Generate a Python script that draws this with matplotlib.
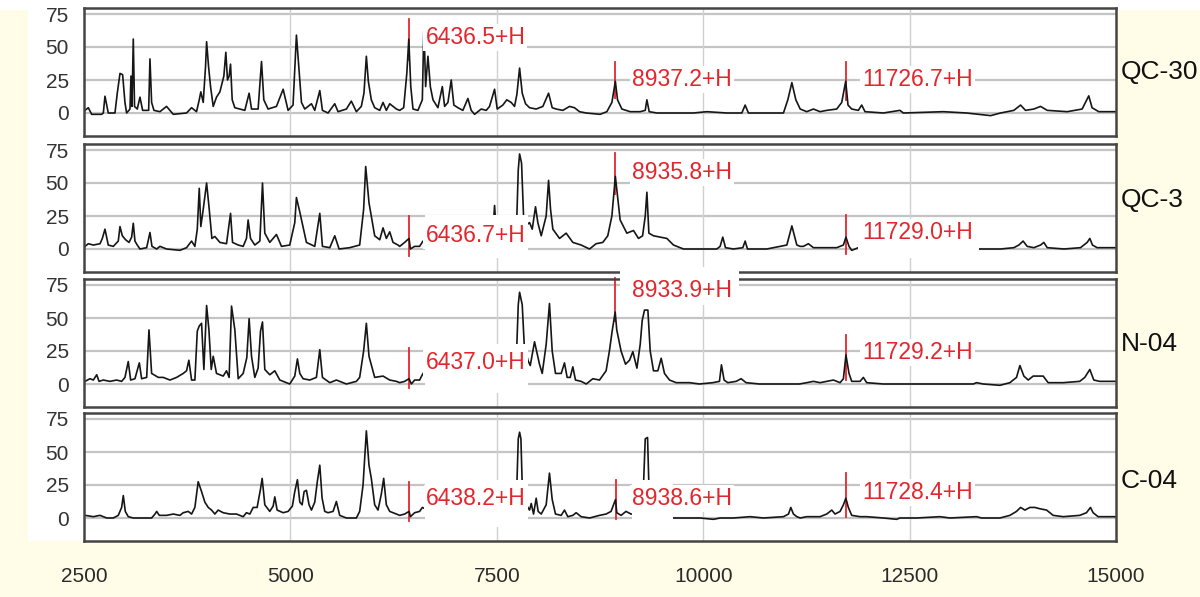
import matplotlib
matplotlib.use("Agg")
import matplotlib.pyplot as plt
from matplotlib.patches import Rectangle
from matplotlib import font_manager

# ---------------- data ----------------
sample_names = ["QC-30", "QC-3", "N-04", "C-04"]

qc30_x = [2500, 2512, 2552, 2593, 2714, 2734, 2754, 2794, 2815, 2875, 2903, 2936, 2968, 2996, 3016, 3057, 3069, 3081, 3097, 3112,
          3145, 3178, 3210, 3283, 3299, 3319, 3347, 3420, 3500, 3581, 3742, 3803, 3863, 3896, 3915, 3944, 3972, 3985, 4009, 4033,
          4065, 4105, 4146, 4178, 4194, 4218, 4238, 4258, 4275, 4295, 4327, 4388, 4448, 4500, 4529, 4609, 4650, 4678, 4730, 4831,
          4912, 4972, 5032, 5073, 5102, 5134, 5174, 5255, 5295, 5356, 5388, 5456, 5537, 5577, 5678, 5738, 5799, 5859, 5891, 5920,
          5944, 5980, 6021, 6082, 6122, 6162, 6203, 6284, 6324, 6372, 6410, 6434, 6458, 6485, 6545, 6598, 6617, 6638, 6666, 6695,
          6727, 6787, 6840, 6868, 6908, 6948, 6980, 7029, 7089, 7150, 7190, 7231, 7311, 7372, 7412, 7473, 7505, 7573, 7621, 7674,
          7715, 7743, 7776, 7808, 7848, 7897, 7977, 8058, 8127, 8171, 8219, 8300, 8381, 8441, 8502, 8583, 8752, 8833, 8894, 8936,
          8962, 9015, 9116, 9237, 9298, 9318, 9346, 9439, 9640, 9882, 10044, 10286, 10468, 10508, 10548, 10770, 10972, 11025, 11074, 11122,
          11175, 11254, 11335, 11416, 11496, 11617, 11678, 11726, 11754, 11799, 11879, 11920, 11960, 12182, 12383, 12424, 12908, 13190, 13481, 13602,
          13763, 13844, 13904, 14005, 14086, 14167, 14409, 14590, 14638, 14670, 14710, 14791, 14973, 15000]
qc30_y = [1, 2, 4, -1, -1, 0, 12.7, 0, 0, 0, 15, 30, 29, 8, 0, 3, 28, 5, 56, 5,
          3, 12, 2, 2, 41, 8, 2, 1, 5, -1, 0, 4, 1, 10, 16, 8, 35, 54, 35, 20,
          5, 12, 16, 24, 28, 46, 25, 28, 37, 10, 4, 3, 2, 15, 3, 3, 39, 10, 3, 5,
          18, 2, 6, 59, 35, 8, 3, 7, 2, 17, 2, 0, 7, 1, 3, 9, 1, 5, 15, 43,
          24, 10, 4, 2, 8, 2, 7, 3, 2, 4, 30, 56, 20, 3, 2, 10, 66, 20, 43, 20,
          10, 4, 20, 5, 8, 25, 6, 4, 2, 11, 2, -1, 3, 2, 5, 18, 3, 6, 10, 8,
          5, 14, 34, 15, 7, 4, 3, 5, 15, 4, 3, 2, 5, 4, 1, 0, -1, 1, 8, 24,
          10, 3, 1, 1, 2, 10, 1, 0, 0, 0, 1, 0, 0, 6, 0, 0, 0, 10, 23, 10,
          3, 1, 3, 1, 2, 3, 8, 24, 6, 3, 2, 6, 1, 0, 2, 0, 1, 0, -2, 0,
          2, 6, 2, 3, 5, 2, 1, 3, 9, 13, 4, 1, 1, 1]

qc3_x = [2500, 2512, 2552, 2613, 2694, 2722, 2754, 2794, 2855, 2915, 2936, 2964, 3004, 3045, 3077, 3097, 3117, 3145, 3178, 3259,
         3299, 3323, 3380, 3420, 3500, 3662, 3742, 3803, 3843, 3872, 3896, 3915, 3944, 3985, 4017, 4049, 4085, 4146, 4226, 4275,
         4299, 4368, 4428, 4468, 4488, 4517, 4569, 4630, 4662, 4690, 4750, 4831, 4892, 4992, 5053, 5073, 5114, 5194, 5295, 5356,
         5388, 5477, 5537, 5590, 5718, 5839, 5887, 5912, 5952, 6021, 6082, 6122, 6162, 6203, 6243, 6304, 6324, 6384, 6437, 6453,
         6505, 6565, 6606, 6650, 6800, 7000, 7200, 7400, 7445, 7473, 7501, 7650, 7720, 7743, 7760, 7776, 7800, 7824, 7856, 7897,
         7929, 7969, 7997, 8038, 8098, 8127, 8151, 8179, 8260, 8340, 8421, 8522, 8623, 8703, 8784, 8844, 8894, 8936, 8962, 8994,
         9075, 9156, 9216, 9266, 9298, 9318, 9342, 9398, 9479, 9560, 9640, 9761, 9963, 10165, 10205, 10237, 10270, 10366, 10480, 10508,
         10536, 10770, 11013, 11074, 11134, 11175, 11214, 11274, 11335, 11496, 11617, 11698, 11729, 11766, 11799, 11920, 12300, 12800, 13200, 13360,
         13602, 13763, 13823, 13875, 13924, 14005, 14086, 14126, 14167, 14369, 14570, 14651, 14683, 14715, 14771, 14973, 15000]
qc3_y = [1, 2, 4, 3, 4, 8, 15, 3, 2, 6, 17, 10, 7, 5, 9, 19.5, 6, 3, 0, 1,
         12.5, 2, 0, 2, 0, -1, 1, 6, 2, 15, 46, 17, 30, 50, 30, 8, 9.5, 5, 4, 27,
         5, 3, 2, 8, 22, 8, 3, 6, 50, 12, 5, 11, 2, 3, 20, 39, 28, 5, 2, 27,
         2, 1, 10, 0, 1, 3, 30, 62.5, 35, 10, 7, 16, 8, 13, 5, 3, 2, 5, 8, 0,
         2, 2, 6, 4, 6, 4, 5, 5, 5, 33, 5, 8, 15, 25, 60, 72, 65, 25, 18, 20,
         15, 32, 20, 10, 25, 52, 30, 15, 8, 12, 5, 3, 0, 4, 5, 10, 25, 55, 40, 22,
         12, 14, 8, 10, 25, 43, 12, 10, 9, 8, 3, 0, 0, 0, 2, 9, 1, 0, 1, 6,
         0, 0, 3, 17.5, 3, 2, 2, 4, 1, 1, 1, 3, 9, 2, -1, 2, 1, 1, 0, 0,
         0, 1, 3, 6, 2, 1, 3, 5, 1, 0, 1, 5, 8, 3, 1, 1, 1]

n04_x = [2500, 2512, 2573, 2613, 2654, 2682, 2734, 2815, 2895, 2956, 2996, 3036, 3065, 3117, 3170, 3198, 3259, 3287, 3319, 3400,
         3460, 3541, 3622, 3702, 3742, 3770, 3803, 3843, 3872, 3896, 3924, 3952, 3985, 4013, 4041, 4065, 4105, 4186, 4226, 4258,
         4287, 4327, 4368, 4428, 4472, 4500, 4529, 4569, 4609, 4638, 4662, 4690, 4750, 4811, 4872, 4992, 5053, 5085, 5114, 5154,
         5234, 5315, 5356, 5388, 5477, 5557, 5678, 5799, 5839, 5887, 5920, 5952, 6021, 6122, 6203, 6284, 6324, 6384, 6437, 6465,
         6505, 6565, 6606, 6700, 6900, 7100, 7300, 7500, 7650, 7730, 7743, 7760, 7776, 7808, 7832, 7877, 7905, 7957, 7989, 8017,
         8050, 8098, 8138, 8171, 8211, 8280, 8320, 8352, 8389, 8421, 8453, 8522, 8583, 8663, 8744, 8824, 8864, 8897, 8934, 8953,
         9005, 9059, 9108, 9148, 9197, 9237, 9261, 9289, 9330, 9358, 9398, 9451, 9491, 9531, 9592, 9673, 9834, 9955, 10116, 10197,
         10221, 10253, 10298, 10399, 10459, 10520, 10681, 11165, 11254, 11335, 11416, 11496, 11577, 11658, 11698, 11729, 11766, 11799, 11900, 11940,
         11980, 12182, 12585, 12989, 13271, 13311, 13392, 13594, 13715, 13795, 13836, 13884, 13937, 13997, 14118, 14178, 14360, 14561, 14622, 14683,
         14731, 14803, 14965, 15000]
n04_y = [1, 2, 4, 3, 7, 2, 3, 2, 3, 2, 5, 17, 3, 4, 16, 4, 5, 41, 8, 5,
         5, 3, 5, 8, 10, 18, 3, 3, 40, 44, 46, 11, 59.5, 41, 11, 21, 8, 6, 10, 5,
         59, 41, 4, 8, 20, 49.5, 21, 5, 12, 40, 47, 11, 7, 10, 3, 0, 6, 19, 8, 4,
         3, 5, 26, 5, 1, 3, 0, 2, 5, 25, 46, 21, 5, 6, 3, 2, 1, 2, 4, 0,
         3, 3, 8, 5, 4, 3, 4, 5, 8, 25, 30, 60, 69.5, 60, 30, 18, 14, 32, 23, 15,
         8, 30, 61, 25, 8, 8, 16, 5, 5, 13, 3, 2, 0, 4, 3, 10, 25, 40, 54.5, 41,
         25, 15, 18, 24.5, 12, 30, 48, 56, 56, 25, 10, 10, 19.5, 8, 3, 1, 1, 0, 1, 2,
         14.5, 3, 1, 2, 4, 1, 0, 0, 1, 2, 1, 2, 3, 1, 4, 22, 8, 2, 2, 5,
         1, 0, 0, 0, 0, 1, 0, -1, 1, 5, 14, 6, 3, 6, 6, 1, 1, 2, 5, 11,
         3, 2, 2, 2]

c04_x = [2500, 2512, 2613, 2694, 2775, 2855, 2915, 2956, 2976, 3000, 3036, 3097, 3259, 3319, 3360, 3380, 3412, 3500, 3581, 3662,
         3702, 3763, 3803, 3843, 3883, 3924, 3964, 4005, 4045, 4085, 4125, 4186, 4267, 4347, 4428, 4468, 4509, 4549, 4597, 4638,
         4658, 4690, 4750, 4791, 4811, 4839, 4912, 4972, 5024, 5053, 5085, 5114, 5142, 5166, 5194, 5226, 5255, 5295, 5327, 5356,
         5384, 5416, 5456, 5517, 5557, 5597, 5678, 5799, 5839, 5880, 5920, 5952, 5980, 6021, 6061, 6101, 6130, 6162, 6203, 6284,
         6324, 6384, 6438, 6453, 6505, 6565, 6598, 6700, 6900, 7100, 7300, 7500, 7650, 7730, 7743, 7760, 7776, 7792, 7808, 7856,
         7897, 7917, 7945, 7977, 8001, 8038, 8098, 8138, 8171, 8211, 8280, 8320, 8360, 8421, 8461, 8522, 8623, 8744, 8824, 8884,
         8938, 8953, 9005, 9065, 9126, 9200, 9277, 9298, 9326, 9342, 9450, 9550, 9640, 9801, 9963, 10124, 10205, 10366, 10568, 10730,
         10972, 11033, 11061, 11093, 11134, 11175, 11254, 11416, 11496, 11557, 11597, 11658, 11698, 11728, 11758, 11799, 11900, 11980, 12182, 12343,
         12383, 12585, 12868, 12989, 13311, 13372, 13594, 13715, 13795, 13844, 13896, 13957, 14017, 14078, 14159, 14239, 14360, 14561, 14642, 14691,
         14723, 14783, 14965, 15000]
c04_y = [1, 2, 1, 2, 0, 0, 2, 8, 17, 5, 1, 0, 0, 0, 3, 5, 2, 2, 3, 2,
         4, 5, 3, 8, 27.5, 20, 12, 8, 6, 3, 6, 4, 3, 3, 1, 4, 3, 8, 8, 22,
         30, 10, 5, 9, 16, 6, 4, 5, 9, 20, 29, 12, 10, 20, 21, 10, 6, 12, 28, 40,
         15, 5, 4, 5, 12.5, 2, 0, 0, 5, 25, 66, 40, 30, 10, 6, 18, 30, 10, 5, 3,
         2, 3, 5, 1, 4, 5, 8, 5, 4, 3, 4, 4, 6, 10, 25, 60, 65, 60, 25, 10,
         6, 11, 3, 15, 5, 3, 10, 34, 14, 3, 2, 6, 1, 2, 4, 1, 0, 2, 3, 5,
         14, 4, 2, 5, 3, 3, 25, 60, 61, 25, 2, 1, 0, 0, 0, -1, 0, 0, 1, 0,
         1, 3, 8, 3, 1, 0, 1, 1, 3, 6, 3, 5, 10, 15, 8, 2, 1, 1, 0, -1,
         0, 0, 1, 0, 1, 0, 0, 2, 5, 8, 6, 8, 8, 7, 6, 2, 1, 2, 4, 8,
         4, 1, 1, 1]

spectra_x = [qc30_x, qc3_x, n04_x, c04_x]
spectra_y = [qc30_y, qc3_y, n04_y, c04_y]

marker_masses = [[6436.5, 8937.2, 11726.7],
                 [6436.7, 8935.8, 11729.0],
                 [6437.0, 8933.9, 11729.2],
                 [6438.2, 8938.6, 11728.4]]

x_ticks = [2500, 5000, 7500, 10000, 12500, 15000]
y_ticks = [0, 25, 50, 75]

# ---------------- layout / style ----------------
W, H = 1200, 597
CREAM = "#FFFDE8"
RED = "#E3262D"

# marker line extents (lo, hi) and label heights per panel
marker_lines = [[(40, 71), (11, 39), (10, 39)],
                [(-5, 25), (42, 72.5), (-4, 26)],
                [(-3, 27), (48, 80), (3, 37)],
                [(-2.5, 27.5), (-1, 29), (1, 34)]]
label_y = [[57.5, 25.5, 25.5],
           [10.5, 58, 12.5],
           [16, 71, 24],
           [15, 15, 19]]
label_dx = 200
# white occluding boxes (x0, x1, y0, y1) in data coords
occluders = [[],
             [(6630, 7880, -7, 26), (11870, 13345, -7, 22)],
             [(6630, 7880, -7, 30), (8990, 10430, 60, 89)],
             [(6630, 7880, -7, 29), (9140, 9640, -7, 29)]]
name_py = [72, 200, 344, 481]
zero_py = [113, 249, 384, 518]
px_per_unit = 1.32
ylo, yhi = -17.5, 79.5

available = {f.name for f in font_manager.fontManager.ttflist}
narrow = "Liberation Sans Narrow" if "Liberation Sans Narrow" in available else "Liberation Sans"
plt.rcParams["font.family"] = ["Liberation Sans", "DejaVu Sans"]

fig = plt.figure(figsize=(W / 100, H / 100), dpi=100, facecolor=CREAM)
# white chart region and top strip
fig.patches.append(Rectangle((28 / W, 1 - 541 / H), (1114 - 28) / W, 541 / H,
                             transform=fig.transFigure, facecolor="white", edgecolor="none", zorder=-10))
fig.patches.append(Rectangle((0, 1 - 10 / H), 1, 10 / H,
                             transform=fig.transFigure, facecolor="white", edgecolor="none", zorder=-10))

left_px, right_px = 84, 1116
axes = []
for i in range(4):
    top_py = zero_py[i] - yhi * px_per_unit
    bot_py = zero_py[i] - ylo * px_per_unit
    ax = fig.add_axes([left_px / W, 1 - bot_py / H, (right_px - left_px) / W, (bot_py - top_py) / H])
    ax.set_zorder(i + 1)
    ax.set_facecolor("white")
    ax.set_xlim(x_ticks[0], x_ticks[-1])
    ax.set_ylim(ylo, yhi)
    ax.set_xticks(x_ticks)
    ax.set_yticks(y_ticks)
    ax.set_yticklabels([str(t) for t in y_ticks], fontsize=15, color="#333333")
    ax.tick_params(axis="y", length=0, pad=11)
    ax.tick_params(axis="x", length=0, pad=19)
    if i < 3:
        ax.set_xticklabels([])
    else:
        ax.set_xticklabels([str(t) for t in x_ticks], fontsize=15, color="#2a2a2a", family=narrow)
    for t in y_ticks:
        ax.axhline(t, color="#c4c4c4", lw=1.6, zorder=0.5)
    for t in x_ticks[1:-1]:
        ax.axvline(t, color="#d0d0d0", lw=1.0, zorder=0.5)
    for s in ax.spines.values():
        s.set_color("#454545")
        s.set_linewidth(1.8)

    ax.plot(spectra_x[i], spectra_y[i], color="#161616", lw=1.2, zorder=2)

    for (x0, x1, y0, y1) in occluders[i]:
        ax.add_patch(Rectangle((x0, y0), x1 - x0, y1 - y0, facecolor="white",
                               edgecolor="none", zorder=3, clip_on=(y1 < yhi)))

    for k, m in enumerate(marker_masses[i]):
        lo, hi = marker_lines[i][k]
        ax.plot([m, m], [lo, hi], color=RED, lw=1.3, zorder=1.8, clip_on=False)
        ax.text(m + label_dx, label_y[i][k], f"{m:.1f}+H", color=RED, fontsize=16.5,
                ha="left", va="center", zorder=4, clip_on=False,
                bbox=dict(facecolor="white", edgecolor="none", pad=1.5))
    axes.append(ax)

for i, name in enumerate(sample_names):
    fig.text(1121 / W, 1 - name_py[i] / H, name, fontsize=19, color="#111111",
             ha="left", va="center")

fig.savefig("out.png", dpi=100, facecolor=CREAM)
